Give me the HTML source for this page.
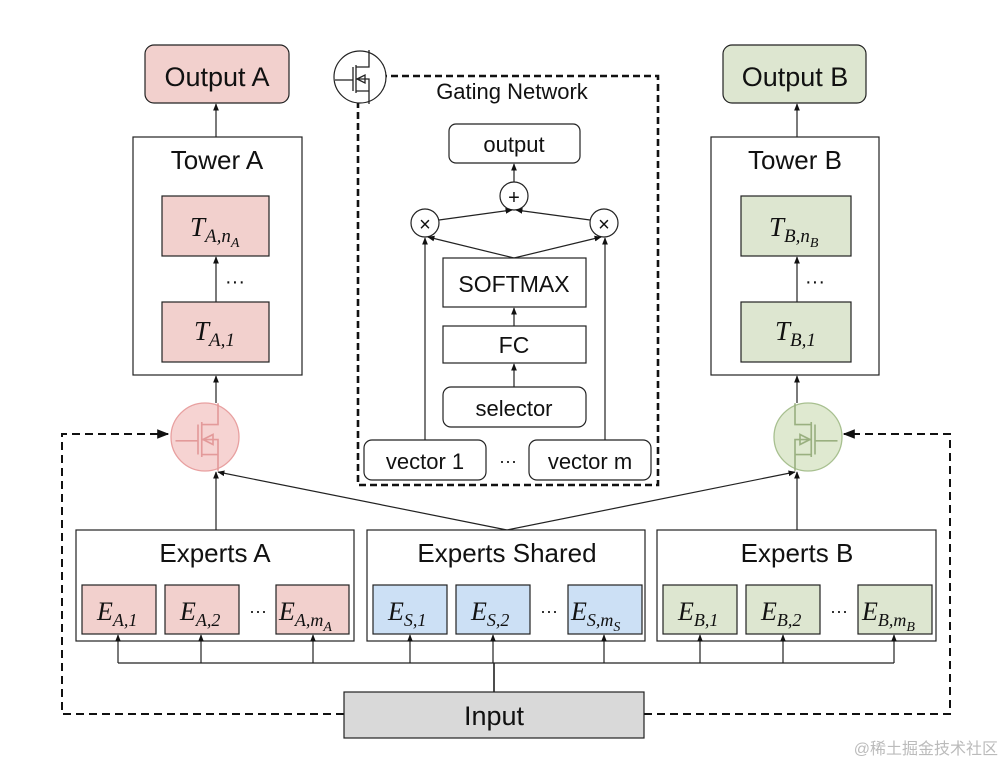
<!DOCTYPE html>
<html><head><meta charset="utf-8"><style>
html,body{margin:0;padding:0;background:#fff;}
svg{display:block;}
text{font-family:"Liberation Sans","DejaVu Sans",sans-serif;fill:#111;}
.m{font-family:"Liberation Serif",serif;font-style:italic;}
</style></head><body>
<svg width="1006" height="764" viewBox="0 0 1006 764" xmlns="http://www.w3.org/2000/svg">
<defs>
<marker id="ar" viewBox="0 0 10 10" refX="9" refY="5" markerWidth="6" markerHeight="6" orient="auto-start-reverse"><path d="M0,1 L10,5 L0,9 z" fill="#111"/></marker>
<g id="fet" fill="none" stroke-width="1.3">
<path d="M-26,3 H-8 M-8,-10 V14 M-5,-12 V16 M-5,-10 H8 V-27 M-5,14 H8 V27 M-5,2 H8 V14"/>
<path d="M-4,2 L4,-2 L4,6 Z"/>
</g>
</defs>
<rect width="1006" height="764" fill="#fff"/>

<rect x="145" y="45" width="144" height="58" rx="9" fill="#f2d0cd" stroke="#222" stroke-width="1.2"/>
<text x="217" y="86" font-size="27" text-anchor="middle">Output A</text>
<rect x="723" y="45" width="143" height="58" rx="9" fill="#dde6d0" stroke="#222" stroke-width="1.2"/>
<text x="795" y="86" font-size="27" text-anchor="middle">Output B</text>

<rect x="133" y="137" width="169" height="238" fill="#fff" stroke="#222" stroke-width="1.2"/>
<text x="217" y="169" font-size="26" text-anchor="middle">Tower A</text>
<rect x="162" y="196" width="107" height="60" fill="#f2d0cd" stroke="#222" stroke-width="1.2"/>
<text x="190" y="236" font-size="27" class="m">T<tspan font-size="19" dy="6">A,n</tspan><tspan font-size="14" dy="5">A</tspan></text>
<text x="235" y="288" font-size="20" text-anchor="middle">···</text>
<rect x="162" y="302" width="107" height="60" fill="#f2d0cd" stroke="#222" stroke-width="1.2"/>
<text x="194" y="340" font-size="27" class="m">T<tspan font-size="19" dy="6">A,1</tspan></text>
<line x1="216" y1="137" x2="216" y2="104" stroke="#222" stroke-width="1.2" marker-end="url(#ar)"/>
<line x1="216" y1="302" x2="216" y2="257" stroke="#222" stroke-width="1.2" marker-end="url(#ar)"/>
<line x1="216" y1="403" x2="216" y2="376" stroke="#222" stroke-width="1.2" marker-end="url(#ar)"/>

<rect x="711" y="137" width="168" height="238" fill="#fff" stroke="#222" stroke-width="1.2"/>
<text x="795" y="169" font-size="26" text-anchor="middle">Tower B</text>
<rect x="741" y="196" width="110" height="60" fill="#dde6d0" stroke="#222" stroke-width="1.2"/>
<text x="769" y="236" font-size="27" class="m">T<tspan font-size="19" dy="6">B,n</tspan><tspan font-size="14" dy="5">B</tspan></text>
<text x="815" y="288" font-size="20" text-anchor="middle">···</text>
<rect x="741" y="302" width="110" height="60" fill="#dde6d0" stroke="#222" stroke-width="1.2"/>
<text x="775" y="340" font-size="27" class="m">T<tspan font-size="19" dy="6">B,1</tspan></text>
<line x1="797" y1="137" x2="797" y2="104" stroke="#222" stroke-width="1.2" marker-end="url(#ar)"/>
<line x1="797" y1="302" x2="797" y2="257" stroke="#222" stroke-width="1.2" marker-end="url(#ar)"/>
<line x1="797" y1="403" x2="797" y2="376" stroke="#222" stroke-width="1.2" marker-end="url(#ar)"/>

<circle cx="205" cy="437" r="34" fill="#f6d3d2" stroke="#e8a0a0" stroke-width="1.3"/>
<g transform="translate(208,437) scale(1.25)" stroke="#e39a9a"><use href="#fet"/></g>
<circle cx="808" cy="437" r="34" fill="#dfe9d0" stroke="#a8c090" stroke-width="1.3"/>
<g transform="translate(805,437) scale(-1.25,1.25)" stroke="#9ab080"><use href="#fet"/></g>

<rect x="358" y="76" width="300" height="409" fill="none" stroke="#111" stroke-width="2.6" stroke-dasharray="7,4"/>
<circle cx="360" cy="77" r="26" fill="#fff" stroke="#222" stroke-width="1.2"/>
<g transform="translate(361,77)" stroke="#222"><use href="#fet"/></g>
<text x="512" y="99" font-size="22" text-anchor="middle">Gating Network</text>
<rect x="449" y="124" width="131" height="39" rx="7" fill="#fff" stroke="#222" stroke-width="1.2"/>
<text x="514" y="152" font-size="22" text-anchor="middle">output</text>
<circle cx="514" cy="196" r="14" fill="#fff" stroke="#222" stroke-width="1.2"/>
<text x="514" y="204" font-size="20" text-anchor="middle">+</text>
<circle cx="425" cy="223" r="14" fill="#fff" stroke="#222" stroke-width="1.2"/>
<text x="425" y="231" font-size="20" text-anchor="middle">×</text>
<circle cx="604" cy="223" r="14" fill="#fff" stroke="#222" stroke-width="1.2"/>
<text x="604" y="231" font-size="20" text-anchor="middle">×</text>
<line x1="514" y1="182" x2="514" y2="164" stroke="#222" stroke-width="1.2" marker-end="url(#ar)"/>
<line x1="439" y1="220" x2="512" y2="210" stroke="#222" stroke-width="1.2" marker-end="url(#ar)"/>
<line x1="590" y1="220" x2="516" y2="210" stroke="#222" stroke-width="1.2" marker-end="url(#ar)"/>
<line x1="514" y1="258" x2="428" y2="237" stroke="#222" stroke-width="1.2" marker-end="url(#ar)"/>
<line x1="514" y1="258" x2="601" y2="237" stroke="#222" stroke-width="1.2" marker-end="url(#ar)"/>
<line x1="425" y1="440" x2="425" y2="238" stroke="#222" stroke-width="1.2" marker-end="url(#ar)"/>
<line x1="605" y1="440" x2="605" y2="238" stroke="#222" stroke-width="1.2" marker-end="url(#ar)"/>
<rect x="443" y="258" width="143" height="49" fill="#fff" stroke="#222" stroke-width="1.2"/>
<text x="514" y="292" font-size="23" text-anchor="middle">SOFTMAX</text>
<rect x="443" y="326" width="143" height="37" fill="#fff" stroke="#222" stroke-width="1.2"/>
<text x="514" y="353" font-size="23" text-anchor="middle">FC</text>
<rect x="443" y="387" width="143" height="40" rx="8" fill="#fff" stroke="#222" stroke-width="1.2"/>
<text x="514" y="416" font-size="22" text-anchor="middle">selector</text>
<line x1="514" y1="387" x2="514" y2="364" stroke="#222" stroke-width="1.2" marker-end="url(#ar)"/>
<line x1="514" y1="326" x2="514" y2="308" stroke="#222" stroke-width="1.2" marker-end="url(#ar)"/>
<rect x="364" y="440" width="122" height="40" rx="8" fill="#fff" stroke="#222" stroke-width="1.2"/>
<text x="425" y="469" font-size="22" text-anchor="middle">vector 1</text>
<text x="508" y="467" font-size="18" text-anchor="middle">···</text>
<rect x="529" y="440" width="122" height="40" rx="8" fill="#fff" stroke="#222" stroke-width="1.2"/>
<text x="590" y="469" font-size="22" text-anchor="middle">vector m</text>

<line x1="216" y1="530" x2="216" y2="472" stroke="#222" stroke-width="1.2" marker-end="url(#ar)"/>
<line x1="507" y1="530" x2="218" y2="472" stroke="#222" stroke-width="1.2" marker-end="url(#ar)"/>
<line x1="507" y1="530" x2="795" y2="472" stroke="#222" stroke-width="1.2" marker-end="url(#ar)"/>
<line x1="797" y1="530" x2="797" y2="472" stroke="#222" stroke-width="1.2" marker-end="url(#ar)"/>

<path d="M344,714 H62 V434 H168" fill="none" stroke="#111" stroke-width="2" stroke-dasharray="8,5" marker-end="url(#ar)"/>
<path d="M644,714 H950 V434 H844" fill="none" stroke="#111" stroke-width="2" stroke-dasharray="8,5" marker-end="url(#ar)"/>

<rect x="76" y="530" width="278" height="111" fill="#fff" stroke="#222" stroke-width="1.2"/>
<text x="215" y="562" font-size="26" text-anchor="middle">Experts A</text>
<rect x="367" y="530" width="278" height="111" fill="#fff" stroke="#222" stroke-width="1.2"/>
<text x="507" y="562" font-size="26" text-anchor="middle">Experts Shared</text>
<rect x="657" y="530" width="279" height="111" fill="#fff" stroke="#222" stroke-width="1.2"/>
<text x="797" y="562" font-size="26" text-anchor="middle">Experts B</text>

<g stroke="#222" stroke-width="1.2">
<rect x="82" y="585" width="74" height="49" fill="#f2d0cd"/>
<rect x="165" y="585" width="74" height="49" fill="#f2d0cd"/>
<rect x="276" y="585" width="73" height="49" fill="#f2d0cd"/>
<rect x="373" y="585" width="74" height="49" fill="#cce0f5"/>
<rect x="456" y="585" width="74" height="49" fill="#cce0f5"/>
<rect x="568" y="585" width="74" height="49" fill="#cce0f5"/>
<rect x="663" y="585" width="74" height="49" fill="#dde6d0"/>
<rect x="746" y="585" width="74" height="49" fill="#dde6d0"/>
<rect x="858" y="585" width="74" height="49" fill="#dde6d0"/>
</g>
<g font-size="26" class="m">
<text x="97" y="620" class="m">E<tspan font-size="18" dy="6">A,1</tspan></text>
<text x="180" y="620" class="m">E<tspan font-size="18" dy="6">A,2</tspan></text>
<text x="279" y="620" class="m">E<tspan font-size="18" dy="6">A,m</tspan><tspan font-size="14" dy="5">A</tspan></text>
<text x="388" y="620" class="m">E<tspan font-size="18" dy="6">S,1</tspan></text>
<text x="471" y="620" class="m">E<tspan font-size="18" dy="6">S,2</tspan></text>
<text x="571" y="620" class="m">E<tspan font-size="18" dy="6">S,m</tspan><tspan font-size="14" dy="5">S</tspan></text>
<text x="678" y="620" class="m">E<tspan font-size="18" dy="6">B,1</tspan></text>
<text x="761" y="620" class="m">E<tspan font-size="18" dy="6">B,2</tspan></text>
<text x="862" y="620" class="m">E<tspan font-size="18" dy="6">B,m</tspan><tspan font-size="14" dy="5">B</tspan></text>
</g>
<g font-size="18" text-anchor="middle">
<text x="258" y="617">···</text><text x="549" y="617">···</text><text x="839" y="617">···</text>
</g>

<line x1="118" y1="663" x2="894" y2="663" stroke="#222" stroke-width="1.2"/>
<line x1="494" y1="692" x2="494" y2="663" stroke="#222" stroke-width="1.6"/>
<g stroke="#222" stroke-width="1.2" marker-end="url(#ar)">
<line x1="118" y1="663" x2="118" y2="635"/>
<line x1="201" y1="663" x2="201" y2="635"/>
<line x1="313" y1="663" x2="313" y2="635"/>
<line x1="410" y1="663" x2="410" y2="635"/>
<line x1="493" y1="663" x2="493" y2="635"/>
<line x1="604" y1="663" x2="604" y2="635"/>
<line x1="700" y1="663" x2="700" y2="635"/>
<line x1="783" y1="663" x2="783" y2="635"/>
<line x1="894" y1="663" x2="894" y2="635"/>
</g>
<rect x="344" y="692" width="300" height="46" fill="#d9d9d9" stroke="#222" stroke-width="1.2"/>
<text x="494" y="725" font-size="27" text-anchor="middle">Input</text>

<text x="998" y="754" font-size="16" text-anchor="end" style="fill:#bbb;font-family:'Liberation Sans','Noto Sans CJK SC',sans-serif">@稀土掘金技术社区</text>
</svg>
</body></html>
